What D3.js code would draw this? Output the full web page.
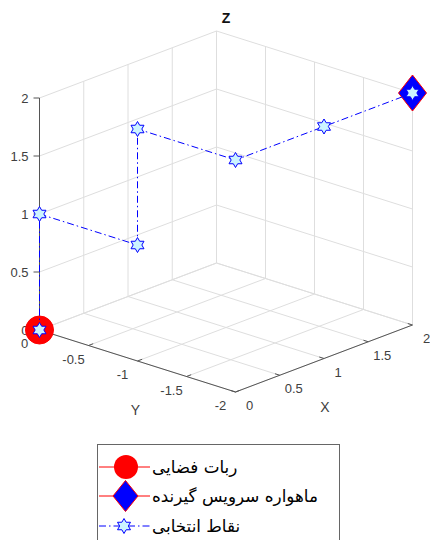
<!DOCTYPE html>
<html>
<head>
<meta charset="utf-8">
<script src="https://cdn.jsdelivr.net/npm/d3@7"></script>
<style>
  body { margin: 0; background: #fff; }
  svg { display: block; font-family: "Liberation Sans", Arial, sans-serif; }
</style>
</head>
<body>
<div id="chart"></div>
<script>
// data
const pathX = [0, 0, 0, 0, 0, 1, 2];
const pathY = [0, 0, -1, -1, -2, -2, -2];
const pathZ = [0, 1, 1, 2, 2, 2, 2];
const robot = [0, 0, 0];
const satellite = [2, -2, 2];
const xTicks = [0, 0.5, 1, 1.5, 2];
const yTicks = [0, -0.5, -1, -1.5, -2];
const zTicks = [0, 0.5, 1, 1.5, 2];
const legendLabels = ["ربات فضایی", "ماهواره سرویس گیرنده", "نقاط انتخابی"];

const width = 430, height = 540;

// 3d view: screen vectors for the full extent of each axis
const view = {
  origin: [39.5, 330],
  ex: [177, -67],
  ey: [196, 62],
  ez: [0, -232]
};

const xs = d3.scaleLinear().domain([0, 2]).range([0, 1]);
const ys = d3.scaleLinear().domain([0, -2]).range([0, 1]);
const zs = d3.scaleLinear().domain([0, 2]).range([0, 1]);

function proj(x, y, z) {
  const a = xs(x), b = ys(y), c = zs(z);
  return [
    view.origin[0] + view.ex[0] * a + view.ey[0] * b + view.ez[0] * c,
    view.origin[1] + view.ex[1] * a + view.ey[1] * b + view.ez[1] * c
  ];
}

const svg = d3.select("#chart").append("svg")
  .attr("width", width)
  .attr("height", height);

const gridColor = "#dedede", axisColor = "#555", tickColor = "#404040";

function seg(g, p1, p2, color, w) {
  g.append("line")
    .attr("x1", p1[0]).attr("y1", p1[1])
    .attr("x2", p2[0]).attr("y2", p2[1])
    .attr("stroke", color)
    .attr("stroke-width", w || 1);
}

// GRID (back walls + floor)
const grid = svg.append("g").attr("class", "grid");
xTicks.forEach(v => {
  seg(grid, proj(v, 0, 0), proj(v, 0, 2), gridColor);       // wall y=0
  seg(grid, proj(v, 0, 0), proj(v, -2, 0), gridColor);      // floor
});
yTicks.forEach(v => {
  seg(grid, proj(2, v, 0), proj(2, v, 2), gridColor);       // wall x=2
  seg(grid, proj(0, v, 0), proj(2, v, 0), gridColor);       // floor
});
zTicks.forEach(v => {
  seg(grid, proj(0, 0, v), proj(2, 0, v), gridColor);
  seg(grid, proj(2, 0, v), proj(2, -2, v), gridColor);
});

// AXES
const axes = svg.append("g").attr("class", "axes");
seg(axes, proj(0, 0, 0), proj(0, 0, 2), axisColor);
seg(axes, proj(0, 0, 0), proj(0, -2, 0), axisColor);
seg(axes, proj(0, -2, 0), proj(2, -2, 0), axisColor);

const tickLen = 5;
function unit(v) { const l = Math.hypot(v[0], v[1]); return [v[0] / l, v[1] / l]; }
const xDir = unit(view.ex), yDir = unit(view.ey);

zTicks.forEach(v => {
  const p = proj(0, 0, v);
  seg(axes, p, [p[0] - 6, p[1]], axisColor);
  axes.append("text")
    .attr("x", p[0] - 11).attr("y", p[1] + 4.5)
    .attr("text-anchor", "end")
    .attr("font-size", "13px")
    .attr("fill", tickColor)
    .text(v);
});
yTicks.forEach(v => {
  const p = proj(0, v, 0);
  seg(axes, p, [p[0] + xDir[0] * tickLen, p[1] + xDir[1] * tickLen], axisColor);
  axes.append("text")
    .attr("x", p[0] - 15).attr("y", p[1] + 18)
    .attr("text-anchor", "middle")
    .attr("font-size", "13px")
    .attr("fill", tickColor)
    .text(v);
});
xTicks.forEach(v => {
  const p = proj(v, -2, 0);
  seg(axes, p, [p[0] - yDir[0] * tickLen, p[1] - yDir[1] * tickLen], axisColor);
  axes.append("text")
    .attr("x", p[0] + 14).attr("y", p[1] + 18)
    .attr("text-anchor", "middle")
    .attr("font-size", "13px")
    .attr("fill", tickColor)
    .text(v);
});

// axis labels
const yl = proj(0, -1, 0), xl = proj(1, -2, 0);
axes.append("text").attr("x", yl[0] - 2).attr("y", yl[1] + 54)
  .attr("text-anchor", "middle").attr("font-size", "14px").attr("fill", tickColor).text("Y");
axes.append("text").attr("x", xl[0] + 1).attr("y", xl[1] + 53)
  .attr("text-anchor", "middle").attr("font-size", "14px").attr("fill", tickColor).text("X");
svg.append("text").attr("x", 226).attr("y", 23)
  .attr("text-anchor", "middle").attr("font-size", "14px").attr("font-weight", "bold")
  .attr("fill", "#111").text("Z");

// MARKERS
function hexagram(r) {
  const pts = [];
  for (let i = 0; i < 12; i++) {
    const rr = i % 2 === 0 ? r : r / Math.sqrt(3);
    const a = -Math.PI / 2 + i * Math.PI / 6;
    pts.push([rr * Math.cos(a), rr * Math.sin(a)]);
  }
  return "M" + pts.map(p => p.join(",")).join("L") + "Z";
}
function diamond(w, h) {
  return `M0,${-h}L${w},0L0,${h}L${-w},0Z`;
}

const marks = svg.append("g").attr("class", "marks");

const rp = proj(robot[0], robot[1], robot[2]);
marks.append("circle")
  .attr("cx", rp[0]).attr("cy", rp[1]).attr("r", 14)
  .attr("fill", "#ff0000").attr("stroke", "#ff0000");

const sp = proj(satellite[0], satellite[1], satellite[2]);
marks.append("path")
  .attr("transform", `translate(${sp[0]},${sp[1]})`)
  .attr("d", diamond(14, 18))
  .attr("fill", "#0000ff").attr("stroke", "#ff0000").attr("stroke-width", 1);

const pathData = pathX.map((x, i) => [x, pathY[i], pathZ[i]]);
const line = d3.line().x(d => proj(d[0], d[1], d[2])[0]).y(d => proj(d[0], d[1], d[2])[1]);

marks.append("path")
  .attr("d", line(pathData))
  .attr("fill", "none")
  .attr("stroke", "#0000ff")
  .attr("stroke-width", 1)
  .attr("stroke-dasharray", "7,3,1.5,3");

marks.selectAll(".star")
  .data(pathData)
  .enter()
  .append("path")
  .attr("class", "star")
  .attr("transform", d => { const p = proj(d[0], d[1], d[2]); return `translate(${p[0]},${p[1]})`; })
  .attr("d", hexagram(7.5))
  .attr("fill", "#ccf4ff")
  .attr("stroke", "#0000ff")
  .attr("stroke-width", 1);

// LEGEND
const legend = svg.append("g").attr("class", "legend");
legend.append("rect")
  .attr("x", 97.5).attr("y", 444.5).attr("width", 242).attr("height", 110)
  .attr("fill", "#fff").attr("stroke", "#666");

const rowY = [467, 496, 526];
const rows = legend.selectAll(".row").data(legendLabels).enter()
  .append("g").attr("class", "row")
  .attr("transform", (d, i) => `translate(0,${rowY[i]})`);

rows.append("line")
  .attr("x1", 99).attr("x2", 150).attr("y1", 0).attr("y2", 0)
  .attr("stroke", (d, i) => i < 2 ? "#ff0000" : "#0000ff")
  .attr("stroke-dasharray", (d, i) => i < 2 ? null : "7,3,1.5,3");

rows.filter((d, i) => i === 0).append("circle")
  .attr("cx", 126).attr("cy", 0).attr("r", 12).attr("fill", "#ff0000");
rows.filter((d, i) => i === 1).append("path")
  .attr("transform", "translate(125.5,0)")
  .attr("d", diamond(12.5, 15.5))
  .attr("fill", "#0000ff").attr("stroke", "#ff0000");
rows.filter((d, i) => i === 2).append("path")
  .attr("transform", "translate(124,0)")
  .attr("d", hexagram(7.5))
  .attr("fill", "#ccf4ff").attr("stroke", "#0000ff");

rows.append("text")
  .attr("x", 152).attr("y", 6)
  .attr("font-family", "'DejaVu Sans', sans-serif")
  .attr("font-size", "16.8px")
  .attr("fill", "#000")
  .text(d => d);
</script>
</body>
</html>
